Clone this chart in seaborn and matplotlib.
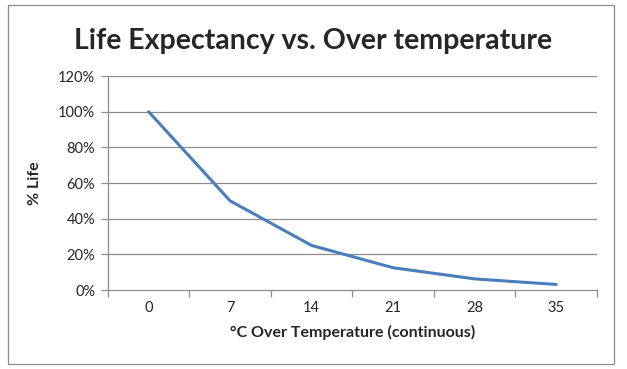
import pandas as pd
import matplotlib.pyplot as plt
import seaborn as sns
from matplotlib.patches import Rectangle

# values
over_temp = ["0", "7", "14", "21", "28", "35"]
life_pct = [100, 50, 25, 12.5, 6.25, 3.125]
y_ticks = [0, 20, 40, 60, 80, 100, 120]

df = pd.DataFrame({"over_temp": over_temp, "life": life_pct})

sns.set_theme(style="white")
plt.rcParams["font.family"] = ["Lato", "DejaVu Sans"]

fig = plt.figure(figsize=(6.27, 3.69), dpi=100)
ax = fig.add_axes([0.172, 0.214, 0.78, 0.58])

sns.lineplot(data=df, x="over_temp", y="life", ax=ax, color="#4A7EBB",
             linewidth=2.2, sort=False)

grid_c = "#8c8c8c"
ax.set_xlim(-0.5, len(over_temp) - 0.5)
ax.set_ylim(0, 120)
ax.set_yticks(y_ticks)
ax.set_yticklabels([f"{v}%" for v in y_ticks], fontsize=10.5)
for v in y_ticks[1:]:
    ax.axhline(v, color=grid_c, lw=0.9, zorder=0)

# category boundaries get the tick marks, centres get the labels
ax.set_xticks([i - 0.5 for i in range(len(over_temp) + 1)])
ax.set_xticklabels([])
ax.set_xticks(range(len(over_temp)), minor=True)
ax.set_xticklabels(over_temp, minor=True, fontsize=10.5)
ax.tick_params(axis="x", which="major", length=5, width=0.9, color=grid_c, direction="out", bottom=True)
ax.tick_params(axis="x", which="minor", length=0, pad=8)
ax.tick_params(axis="y", length=5, width=0.9, color=grid_c, direction="out", left=True, pad=4)

for s in ["top", "right"]:
    ax.spines[s].set_visible(False)
for s in ["left", "bottom"]:
    ax.spines[s].set_color(grid_c)
    ax.spines[s].set_linewidth(0.9)

ax.set_xlabel("°C Over Temperature (continuous)", fontsize=11.5, fontweight="bold", labelpad=7)
ax.set_ylabel("% Life", fontsize=11.5, fontweight="bold", labelpad=12)
fig.suptitle("Life Expectancy vs. Over temperature", fontsize=20.5, fontweight="bold", y=0.925)

fig.patches.append(Rectangle((8 / 627, 5 / 369), 606 / 627, 359 / 369, transform=fig.transFigure,
                             fill=False, edgecolor="#8c8c8c", lw=0.9))

fig.savefig("out.png", dpi=100)
